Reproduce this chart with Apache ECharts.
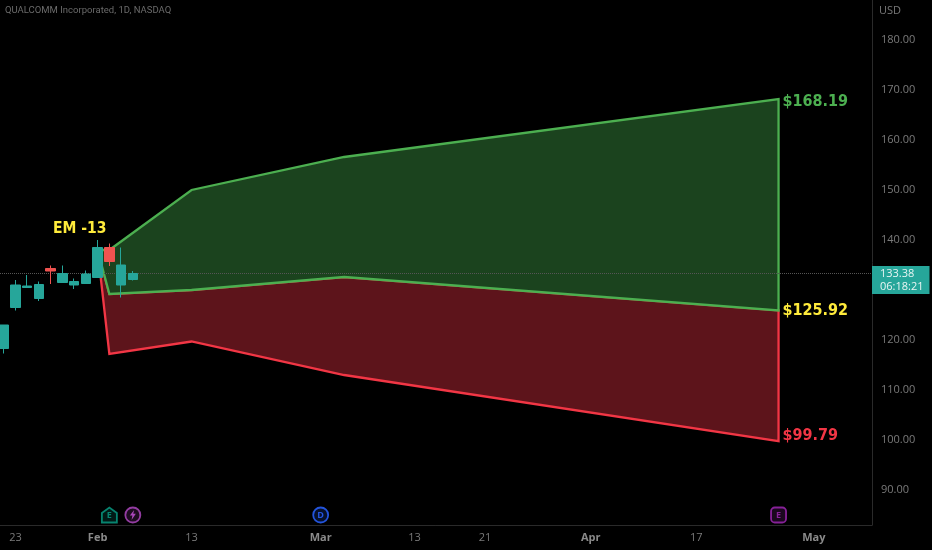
<!DOCTYPE html>
<html>
<head>
<meta charset="utf-8">
<style>html,body{margin:0;padding:0;background:#000}#c{width:932px;height:550px}</style>
<script src="https://cdn.jsdelivr.net/npm/echarts@6/dist/echarts.min.js"></script>
</head>
<body>
<div id="c"></div>
<script>
// [open, close, low, high] per daily bar, bar index from 0
const candles = [
  [118.3,123.0,117.3,123.0],
  [126.5,131.0,125.9,132.0],
  [130.5,130.8,130.4,133.0],
  [128.3,131.1,127.8,131.7],
  [134.3,133.8,131.2,134.9],
  [131.5,133.3,131.5,134.9],
  [131.0,131.7,130.2,132.3],
  [131.3,133.2,131.3,133.9],
  [132.5,138.5,132.5,140.0],
  [138.5,135.7,134.8,139.3],
  [131.0,135.0,128.5,138.5],
  [132.1,133.3,131.9,133.8]
];
const coneX     = [8, 9, 16, 29, 66];
const coneUpper = [138.0, 138.0, 150.0, 156.6, 168.19];
const coneMid   = [138.0, 129.2, 130.0, 132.6, 125.92];
const coneLower = [138.0, 117.2, 119.7, 113.0, 99.79];
const lastPrice = 133.38;
const countdown = '06:18:21';
const tickIdx    = [1, 8, 16, 27, 35, 41, 50, 59, 69];
const tickLabels = ['23','Feb','13','Mar','13','21','Apr','17','May'];
const priceTicks = [90,100,110,120,130,140,150,160,170,180];
const notes = [
  {x: 66, y: 168.19, text: '$168.19', color: '#4caf50', dy: 3},
  {x: 66, y: 125.92, text: '$125.92', color: '#ffeb3b', dy: 0},
  {x: 66, y: 99.79,  text: '$99.79',  color: '#f23645', dy: -5}
];
const emNote = {x: 4.2, y: 142.2, text: 'EM -13'};
const events = [
  {x: 9,  text: 'E', color: '#089981', shape: 'house'},
  {x: 11, text: '',  color: '#ab47bc', shape: 'circle', bolt: true},
  {x: 27, text: 'D', color: '#2962ff', shape: 'circle'},
  {x: 66, text: 'E', color: '#9c27b0', shape: 'square'}
];

const shapes = {
  house: 'path://M0,4 L5,0 L10,4 L10,11 L0,11 Z',
  circle: 'circle',
  square: 'roundRect'
};
const BOLT = 'path://M6,0 L1,6 L4,6 L3,11 L8,4 L5,4 Z';
const UP = '#26a69a', DOWN = '#ef5350', GREY = '#7a7a7a', AXIS = '#2a2a2a';
const NOTE_FONT = '"DejaVu Sans Condensed", "DejaVu Sans"';

function band(top, bottom) {
  return top.map((v, i) => [coneX[i], v]).concat(
    bottom.map((v, i) => [coneX[i], v]).reverse());
}
function polygonSeries(points, fill, stroke) {
  return {
    type: 'custom', coordinateSystem: 'cartesian2d', z: 2, silent: true,
    data: [0], clip: true,
    renderItem: (params, api) => ({
      type: 'polygon',
      shape: {points: points.map(p => api.coord(p))},
      style: {fill: fill, stroke: stroke, lineWidth: 2.3}
    })
  };
}

const chart = echarts.init(document.getElementById('c'), null, {renderer: 'canvas'});
chart.setOption({
  animation: false,
  backgroundColor: '#000',
  textStyle: {fontFamily: '"Open Sans", sans-serif'},
  title: {
    text: 'QUALCOMM Incorporated, 1D, NASDAQ', left: 0, top: 0, padding: [6, 0, 0, 5],
    textStyle: {color: '#6a6a6a', fontSize: 9.5, fontWeight: 'normal', fontFamily: 'Roboto'}
  },
  graphic: [{
    type: 'text', left: 879, top: 5,
    style: {text: 'USD', fill: GREY, font: '11px "Open Sans"'}
  }],
  grid: {left: 0, right: 60, top: 0, bottom: 25, show: false},
  xAxis: {
    type: 'value', min: -0.315, max: 73.96, splitLine: {show: false},
    axisLine: {show: true, onZero: false, lineStyle: {color: AXIS}},
    axisTick: {show: false},
    axisLabel: {
      customValues: tickIdx,
      margin: 7,
      formatter: v => {
        const t = tickLabels[tickIdx.indexOf(v)];
        return /[A-Za-z]/.test(t) ? '{b|' + t + '}' : t;
      },
      color: GREY, fontSize: 11, hideOverlap: false,
      rich: {b: {color: '#8a8a8a', fontSize: 11, fontWeight: 'bold'}}
    }
  },
  yAxis: {
    type: 'value', min: 83, max: 188, position: 'right', splitLine: {show: false},
    axisLine: {show: true, onZero: false, lineStyle: {color: AXIS}},
    axisTick: {show: false},
    axisLabel: {
      customValues: priceTicks, margin: 9, padding: [2, 0, 0, 0],
      color: GREY, fontSize: 11, formatter: v => v.toFixed(2)
    }
  },
  series: [
    polygonSeries(band(coneMid, coneLower), '#5d141b', '#f23645'),
    polygonSeries(band(coneUpper, coneMid), '#1b431e', '#4caf50'),
    {
      type: 'candlestick', z: 5, barWidth: 10,
      data: candles.map((c, i) => [i].concat(c)),
      encode: {x: 0, y: [1, 2, 3, 4]},
      itemStyle: {color: UP, color0: DOWN, borderColor: UP, borderColor0: DOWN, borderWidth: 1},
      markLine: {
        silent: true, symbol: 'none', z: 3,
        lineStyle: {color: '#555', type: 'dotted', width: 1},
        label: {show: false},
        data: [{yAxis: lastPrice}]
      }
    },
    {
      type: 'scatter', symbolSize: 0, z: 6, silent: true,
      itemStyle: {opacity: 1},
      data: notes.map(n => ({
        value: [n.x, n.y],
        label: {show: true, position: 'right', distance: 4, offset: [0, n.dy], formatter: n.text,
                color: n.color, fontFamily: NOTE_FONT, fontWeight: 'bold', fontSize: 16}
      }))
    },
    {
      type: 'scatter', symbolSize: 0, z: 6, silent: true,
      itemStyle: {opacity: 1},
      data: [{
        value: [emNote.x, emNote.y],
        label: {show: true, position: 'right', distance: 0, formatter: emNote.text,
                color: '#ffeb3b', fontFamily: NOTE_FONT, fontWeight: 'bold', fontSize: 15.5}
      }]
    },
    {
      type: 'scatter', symbolSize: 0, z: 7, silent: true, clip: false,
      itemStyle: {opacity: 1},
      data: [{
        value: [73.96, lastPrice],
        label: {show: true, position: 'right', distance: 0, offset: [0, 7],
                formatter: lastPrice.toFixed(2) + '\n' + countdown,
                backgroundColor: UP, color: '#e8f5f3', fontSize: 11, lineHeight: 13,
                padding: [1, 6, 1, 8], align: 'left'}
      }]
    },
    {
      type: 'scatter', z: 6, silent: true,
      itemStyle: {opacity: 1},
      data: events.map(e => ({
        value: [e.x, 85],
        symbol: shapes[e.shape],
        symbolSize: 15,
        itemStyle: {color: echarts.color.modifyAlpha(e.color, 0.2), borderColor: e.color, borderWidth: 1.8, opacity: 0.85},
        label: {show: true, position: 'inside', formatter: e.text, color: e.color, fontSize: 9, fontWeight: 'bold'}
      }))
    },
    {
      type: 'scatter', z: 7, silent: true, symbol: BOLT, symbolSize: [6, 10],
      itemStyle: {opacity: 1, color: '#ab47bc'},
      data: events.filter(e => e.bolt).map(e => [e.x, 85])
    }
  ]
});
</script>
</body>
</html>
